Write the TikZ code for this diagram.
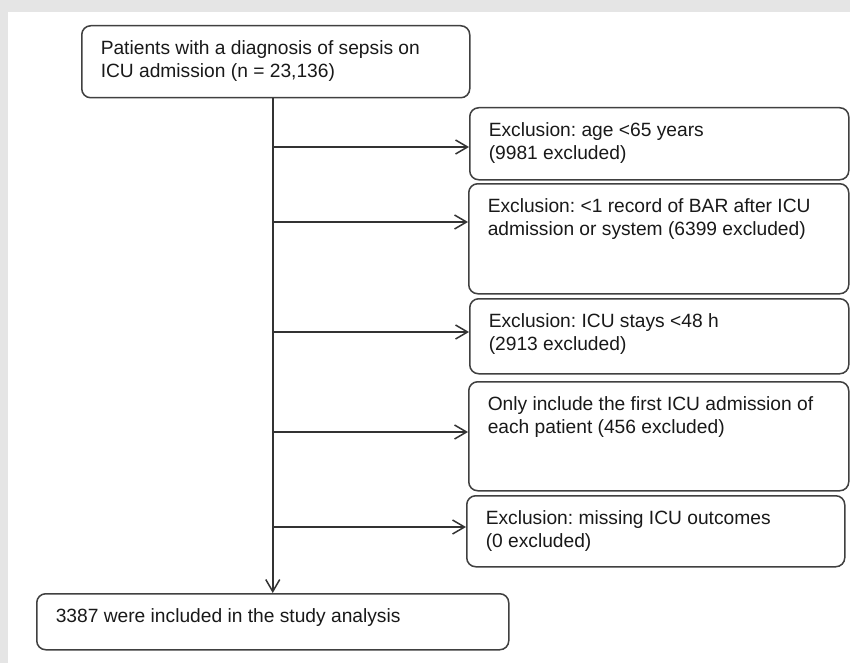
\documentclass[tikz,border=0pt]{standalone}
\usepackage{fontspec}
\setmainfont{Liberation Sans}
\usetikzlibrary{arrows.meta}

% text block of a box: width, height, text
\newcommand{\boxtxt}[3]{\parbox[t][#2][t]{#1}{\raggedright\frenchspacing #3}}

\begin{document}
\begin{tikzpicture}[x=1pt, y=1pt,
    box/.style={draw=black!75, line width=1.5pt, rounded corners=9pt, anchor=north west,
        inner xsep=19pt, inner ysep=15pt, text=black!90,
        font=\fontsize{19.2}{23}\selectfont},
    >={Straight Barb[length=12pt,width=14pt]}]
    \useasboundingbox (0,0) rectangle (850,-663);
    \fill[gray!20] (0,0) rectangle (850,-663);
    \fill[white] (8,-12) rectangle (850,-663);
    % boxes
    \node[box] (pat) at (81,-25) {\boxtxt{350pt}{42pt}{Patients with a diagnosis of sepsis on\\ICU admission (n = 23,136)}};
    \node[box] (ex1) at (469,-107) {\boxtxt{341pt}{42pt}{Exclusion: age <65 years\\(9981 excluded)}};
    \node[box] (ex2) at (468,-183) {\boxtxt{342pt}{80pt}{Exclusion: <1 record of BAR after ICU\\admission or system (6399 excluded)}};
    \node[box] (ex3) at (469,-298) {\boxtxt{341pt}{45pt}{Exclusion: ICU stays <48 h\\(2913 excluded)}};
    \node[box] (ex4) at (468,-381) {\boxtxt{342pt}{79pt}{Only include the first ICU admission of\\each patient (456 excluded)}};
    \node[box] (ex5) at (466,-495) {\boxtxt{340pt}{41pt}{Exclusion: missing ICU outcomes\\(0 excluded)}};
    \node[box] (incl) at (36,-593) {\boxtxt{434pt}{26pt}{3387 were included in the study analysis}};
    % main line
    \draw[line width=1.5pt, black!80, ->] (pat.south -| incl.north) -- (incl.north);
    % branches
    \coordinate (j1) at (272,-147);
    \coordinate (j2) at (272,-222);
    \coordinate (j3) at (272,-332);
    \coordinate (j4) at (272,-432);
    \coordinate (j5) at (272,-527);
    \draw[line width=1.5pt, black!80, ->] (j1) -- (j1 -| ex1.west);
    \draw[line width=1.5pt, black!80, ->] (j2) -- (j2 -| ex2.west);
    \draw[line width=1.5pt, black!80, ->] (j3) -- (j3 -| ex3.west);
    \draw[line width=1.5pt, black!80, ->] (j4) -- (j4 -| ex4.west);
    \draw[line width=1.5pt, black!80, ->] (j5) -- (j5 -| ex5.west);
\end{tikzpicture}
\end{document}
